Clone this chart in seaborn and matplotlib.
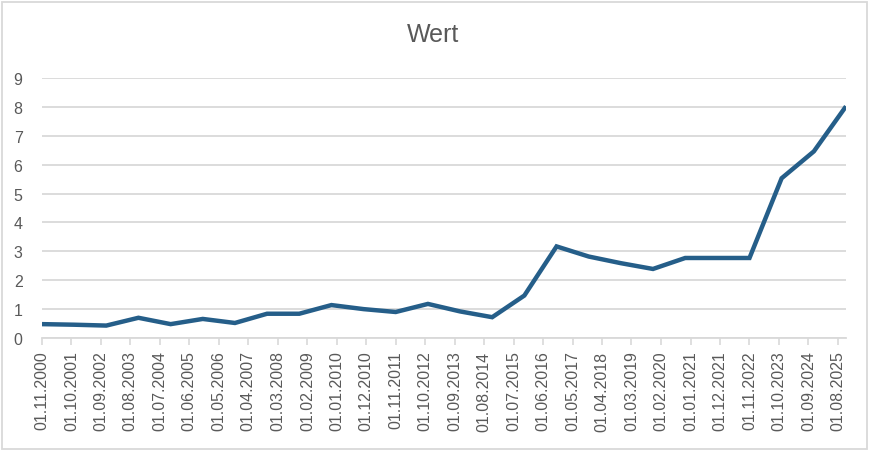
import numpy as np
import pandas as pd
import matplotlib
matplotlib.use("Agg")
import matplotlib.pyplot as plt
import seaborn as sns
from matplotlib.patches import Rectangle

### data (yearly values)
dates = ["01.11.2000", "01.11.2001", "01.11.2002", "01.11.2003", "01.11.2004",
         "01.11.2005", "01.11.2006", "01.11.2007", "01.11.2008", "01.11.2009",
         "01.11.2010", "01.11.2011", "01.11.2012", "01.11.2013", "01.11.2014",
         "01.11.2015", "01.11.2016", "01.11.2017", "01.11.2018", "01.11.2019",
         "01.11.2020", "01.11.2021", "01.11.2022", "01.11.2023", "01.11.2024",
         "01.11.2025"]
wert = [0.48, 0.46, 0.43, 0.70, 0.48, 0.66, 0.52, 0.84, 0.84, 1.14,
        1.00, 0.90, 1.18, 0.92, 0.72, 1.47, 3.17, 2.82, 2.59, 2.39,
        2.77, 2.77, 2.77, 5.53, 6.46, 8.02]

# axis labels every 11 months
tick_labels = ["01.11.2000", "01.10.2001", "01.09.2002", "01.08.2003", "01.07.2004",
               "01.06.2005", "01.05.2006", "01.04.2007", "01.03.2008", "01.02.2009",
               "01.01.2010", "01.12.2010", "01.11.2011", "01.10.2012", "01.09.2013",
               "01.08.2014", "01.07.2015", "01.06.2016", "01.05.2017", "01.04.2018",
               "01.03.2019", "01.02.2020", "01.01.2021", "01.12.2021", "01.11.2022",
               "01.10.2023", "01.09.2024", "01.08.2025"]

df = pd.DataFrame({"Datum": pd.to_datetime(dates, format="%d.%m.%Y"), "Wert": wert})
ticks = pd.to_datetime(tick_labels, format="%d.%m.%Y")

sns.set_style("white")
plt.rcParams['font.family'] = ['Liberation Sans', 'DejaVu Sans']

grey = "#595959"
gridc = "#d9d9d9"

fig = plt.figure(figsize=(8.69, 4.52), dpi=100)
ax = fig.add_axes([42/869, 113/452, (846-42)/869, 260/452])

sns.lineplot(data=df, x="Datum", y="Wert", ax=ax, color="#255e89", linewidth=3.2,
             solid_joinstyle="miter", solid_capstyle="butt")

ax.set_xlim(df["Datum"].iloc[0], df["Datum"].iloc[-1])
ax.set_ylim(0, 9)
ax.set_yticks(range(0, 10))
ax.set_xticks(ticks)
ax.set_xticklabels(tick_labels, rotation=90)
ax.set_xlabel("")
ax.set_ylabel("")

ax.grid(axis="y", color=gridc, linewidth=1.3)
ax.set_axisbelow(True)
for s in ["left", "right", "top"]:
    ax.spines[s].set_visible(False)
ax.spines["bottom"].set_color(gridc)
ax.spines["bottom"].set_linewidth(1.3)

ax.tick_params(axis="x", colors=gridc, length=5, width=1.2, labelcolor=grey,
               labelsize=11.5, pad=4, bottom=True)
ax.tick_params(axis="y", length=0, labelcolor=grey, labelsize=11.5, pad=14)

fig.text(433/869, 1 - 35/452, "Wert", ha="center", va="center", fontsize=18, color=grey)

# outer chart border
fig.patches.append(Rectangle((2/869, 2/452), 865/869, 447/452, transform=fig.transFigure,
                             fill=False, edgecolor=gridc, linewidth=1.3))

fig.savefig("out.png", dpi=100)
